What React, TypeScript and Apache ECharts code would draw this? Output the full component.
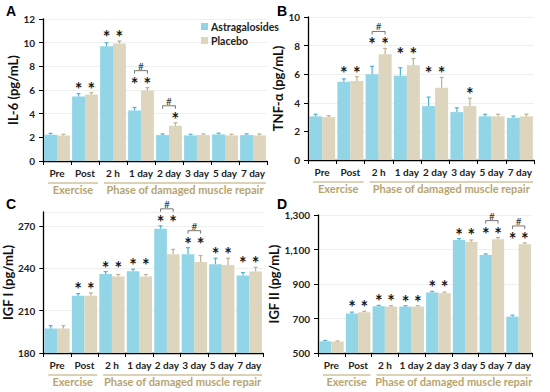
import React, { useEffect, useRef } from "react";
import * as echarts from "echarts";

const categories = ["Pre", "Post", "2 h", "1 day", "2 day", "3 day", "5 day", "7 day"];
const groupNames = ["Exercise", "Phase of damaged muscle repair"];
const groupFrom = [0, 2];
const groupTo = [1, 7];
const seriesNames = ["Astragalosides", "Placebo"];

// Panel A: IL-6
const il6Astra = [2.22, 5.45, 9.69, 4.27, 2.19, 2.16, 2.25, 2.19];
const il6AstraErr = [0.12, 0.25, 0.3, 0.25, 0.1, 0.1, 0.1, 0.1];
const il6Placebo = [2.16, 5.62, 9.94, 5.95, 2.98, 2.19, 2.16, 2.16];
const il6PlaceboErr = [0.1, 0.15, 0.2, 0.25, 0.25, 0.1, 0.1, 0.12];
const il6StarA = [0, 1, 1, 1, 0, 0, 0, 0];
const il6StarP = [0, 1, 1, 1, 1, 0, 0, 0];
const il6Hash = [0, 0, 0, 1, 1, 0, 0, 0];

// Panel B: TNF-α
const tnfAstra = [3.05, 5.47, 6.0, 5.9, 3.77, 3.35, 3.05, 2.95];
const tnfAstraErr = [0.15, 0.2, 0.55, 0.55, 0.63, 0.3, 0.15, 0.12];
const tnfPlacebo = [3.0, 5.53, 7.4, 6.63, 5.05, 3.77, 3.05, 3.05];
const tnfPlaceboErr = [0.1, 0.3, 0.4, 0.47, 0.72, 0.55, 0.15, 0.15];
const tnfStarA = [0, 1, 1, 1, 1, 0, 0, 0];
const tnfStarP = [0, 1, 1, 1, 1, 1, 0, 0];
const tnfHash = [0, 0, 1, 0, 0, 0, 0, 0];

// Panel C: IGF I
const igf1Astra = [197.4, 220.6, 236.1, 238.0, 268.2, 250.0, 243.0, 235.0];
const igf1AstraErr = [2, 1.5, 1.6, 1.4, 2, 4.7, 4.2, 2];
const igf1Placebo = [197.4, 220.6, 234.2, 234.2, 250.0, 244.6, 242.5, 237.8];
const igf1PlaceboErr = [2, 2, 1.5, 1.5, 3.5, 4.5, 4.7, 3];
const igf1StarA = [0, 1, 1, 1, 1, 1, 1, 1];
const igf1StarP = [0, 1, 1, 1, 1, 1, 1, 1];
const igf1Hash = [0, 0, 0, 0, 1, 1, 0, 0];

// Panel D: IGF II
const igf2Astra = [568, 729, 771, 769, 851, 1155, 1068, 711];
const igf2AstraErr = [5, 8, 5, 5, 6, 8, 6, 8];
const igf2Placebo = [566, 736, 769, 769, 847, 1145, 1159, 1130];
const igf2PlaceboErr = [4, 6, 5, 5, 6, 10, 10, 8];
const igf2StarA = [0, 1, 1, 1, 1, 1, 1, 1];
const igf2StarP = [0, 1, 1, 1, 1, 1, 1, 1];
const igf2Hash = [0, 0, 0, 0, 0, 0, 1, 1];

const BLUE = "#92d5e6";
const TAN = "#ddd5bd";
const BLUE_ERR = "#4fb3d3";
const TAN_ERR = "#bfb28c";
const GROUP_COLOR = "#b7a46f";
const FONT = "Lato";

const panels = [
  {
    letter: "A", letterPos: [6, 4], yName: "IL-6 (pg/mL)", min: 0, max: 12, interval: 2, nameGap: 22,
    grid: { left: 43, right: 283, top: 19, bottom: 231 },
    astra: il6Astra, astraErr: il6AstraErr, placebo: il6Placebo, placeboErr: il6PlaceboErr,
    starA: il6StarA, starP: il6StarP, hash: il6Hash, fmt: (v: number) => String(v), showMax: true,
  },
  {
    letter: "B", letterPos: [277, 4], yName: "TNF-α (pg/mL)", min: 0, max: 10, interval: 2, nameGap: 20,
    grid: { left: 308, right: 16, top: 17, bottom: 232 },
    astra: tnfAstra, astraErr: tnfAstraErr, placebo: tnfPlacebo, placeboErr: tnfPlaceboErr,
    starA: tnfStarA, starP: tnfStarP, hash: tnfHash, fmt: (v: number) => String(v), showMax: true,
  },
  {
    letter: "C", letterPos: [6, 197], yName: "IGF I (pg/mL)", min: 180, max: 280, interval: 30, nameGap: 27,
    grid: { left: 43, right: 287, top: 212, bottom: 39 },
    astra: igf1Astra, astraErr: igf1AstraErr, placebo: igf1Placebo, placeboErr: igf1PlaceboErr,
    starA: igf1StarA, starP: igf1StarP, hash: igf1Hash, fmt: (v: number) => (v === 280 ? "" : String(v)), showMax: false,
  },
  {
    letter: "D", letterPos: [277, 197], yName: "IGF II (pg/mL)", min: 500, max: 1300, interval: 200, nameGap: 27,
    grid: { left: 318, right: 18, top: 215, bottom: 39 },
    astra: igf2Astra, astraErr: igf2AstraErr, placebo: igf2Placebo, placeboErr: igf2PlaceboErr,
    starA: igf2StarA, starP: igf2StarP, hash: igf2Hash,
    fmt: (v: number) => v.toLocaleString("en-US"), showMax: true,
  },
];

const HALF = 0.23; // bar centre offset as fraction of band

function annotRender(params: any, api: any) {
  const i = api.value(0);
  const vA = api.value(1), eA = api.value(2), vP = api.value(3), eP = api.value(4);
  const sA = api.value(5), sP = api.value(6), h = api.value(7);
  const band = api.size([1, 0])[0];
  const cx = api.coord([i, vA])[0];
  const xA = cx - band * HALF;
  const xP = cx + band * HALF;
  const children: any[] = [];
  const err = (x: number, v: number, e: number, color: string) => {
    const y0 = api.coord([i, v])[1];
    const y1 = api.coord([i, v + e])[1];
    children.push({ type: "line", shape: { x1: x, y1: y0, x2: x, y2: y1 }, style: { stroke: color, lineWidth: 1.2 } });
    children.push({ type: "line", shape: { x1: x - 2, y1: y1, x2: x + 2, y2: y1 }, style: { stroke: color, lineWidth: 1.2 } });
    return y1;
  };
  const tA = err(xA, vA, eA, BLUE_ERR);
  const tP = err(xP, vP, eP, TAN_ERR);
  const top = Math.min(tA, tP);
  const starY = top - 8;
  const star = (x: number) =>
    children.push({
      type: "text",
      style: { text: "*", x, y: starY + 4, align: "center", verticalAlign: "middle", fill: "#1a1a1a", fontSize: 18, fontWeight: "bold", fontFamily: FONT },
    });
  if (sA) star(xA);
  if (sP) star(xP);
  if (h) {
    const yb = top - 17;
    children.push({
      type: "polyline",
      shape: { points: [[xA, yb + 3], [xA, yb], [xP, yb], [xP, yb + 3]] },
      style: { stroke: "#555", lineWidth: 0.8, fill: null },
    });
    children.push({
      type: "text",
      style: { text: "#", x: cx, y: yb - 5, align: "center", verticalAlign: "middle", fill: "#333", fontSize: 10, fontFamily: FONT },
    });
  }
  return { type: "group", children };
}

function groupRender(params: any, api: any) {
  const from = api.value(0), to = api.value(1), ymin = api.value(2);
  const band = api.size([1, 0])[0];
  const p0 = api.coord([from, ymin]);
  const p1 = api.coord([to, ymin]);
  const x0 = p0[0] - band / 2 + 5;
  const x1 = p1[0] + band / 2 - 1;
  const y = p0[1];
  return {
    type: "group",
    children: [
      { type: "line", shape: { x1: x0, y1: y + 22, x2: x1, y2: y + 22 }, style: { stroke: GROUP_COLOR, lineWidth: 1 } },
      {
        type: "text",
        style: {
          text: groupNames[params.dataIndex], x: (x0 + x1) / 2, y: y + 28.5, align: "center", verticalAlign: "middle",
          fill: GROUP_COLOR, fontSize: 11, fontWeight: "bold", fontFamily: FONT,
        },
      },
    ],
  };
}

function buildOption() {
  const grid: any[] = [];
  const xAxis: any[] = [];
  const yAxis: any[] = [];
  const series: any[] = [];
  const graphic: any[] = [];
  panels.forEach((p, k) => {
    grid.push({ ...p.grid, containLabel: false });
    xAxis.push({
      type: "category", gridIndex: k, data: categories,
      axisLine: { lineStyle: { color: "#000", width: 1.3 } },
      axisTick: { show: true, length: 4, lineStyle: { color: "#000" } },
      axisLabel: { interval: 0, color: "#222", fontWeight: "bold", fontSize: 10, fontFamily: FONT, margin: 7 },
      splitLine: { show: false },
    });
    yAxis.push({
      type: "value", gridIndex: k, min: p.min, max: p.max, interval: p.interval,
      name: p.yName, nameLocation: "middle", nameGap: p.nameGap,
      nameTextStyle: { fontWeight: "bold", fontSize: 13, color: "#111", fontFamily: FONT },
      axisLine: { show: true, lineStyle: { color: "#000", width: 1.3 } },
      axisTick: { show: true, length: 4, lineStyle: { color: "#000" } },
      axisLabel: { color: "#222", fontWeight: "bold", fontSize: 10, fontFamily: FONT, margin: 8, formatter: p.fmt, showMaxLabel: p.showMax },
      splitLine: { show: true, lineStyle: { color: "#efefef", width: 1 } },
    });
    series.push({
      type: "bar", name: seriesNames[0], xAxisIndex: k, yAxisIndex: k, data: p.astra,
      barWidth: "46%", barGap: "0%", itemStyle: { color: BLUE }, silent: true,
    });
    series.push({
      type: "bar", name: seriesNames[1], xAxisIndex: k, yAxisIndex: k, data: p.placebo,
      barWidth: "46%", barGap: "0%", itemStyle: { color: TAN }, silent: true,
    });
    series.push({
      type: "custom", xAxisIndex: k, yAxisIndex: k, z: 5, silent: true, clip: false,
      data: categories.map((_, i) => [i, p.astra[i], p.astraErr[i], p.placebo[i], p.placeboErr[i], p.starA[i], p.starP[i], p.hash[i]]),
      encode: { x: 0, y: 1 },
      renderItem: annotRender,
    });
    series.push({
      type: "custom", xAxisIndex: k, yAxisIndex: k, z: 5, silent: true, clip: false,
      data: groupNames.map((_, g) => [groupFrom[g], groupTo[g], p.min]),
      encode: { x: [0, 1], y: 2 },
      renderItem: groupRender,
    });
    graphic.push({
      type: "text", left: p.letterPos[0], top: p.letterPos[1],
      style: { text: p.letter, fill: "#000", fontSize: 14, fontWeight: "bold", fontFamily: "Liberation Sans" },
    });
  });
  return {
    animation: false,
    backgroundColor: "#fff",
    grid, xAxis, yAxis, series, graphic,
    legend: {
      data: seriesNames, orient: "vertical", left: 196, top: 16, itemWidth: 7, itemHeight: 7, itemGap: 3, icon: "rect",
      textStyle: { fontWeight: "bold", fontSize: 10.5, color: "#222", fontFamily: FONT, padding: [0, 0, 0, -2] },
    },
  };
}

export default function App() {
  const ref = useRef<HTMLDivElement>(null);
  useEffect(() => {
    if (!ref.current) return;
    const chart = echarts.init(ref.current, null, { renderer: "svg" });
    chart.setOption(buildOption() as any);
    return () => chart.dispose();
  }, []);
  return <div ref={ref} style={{ width: 550, height: 392, position: "absolute", left: 0, top: 0 }} />;
}
